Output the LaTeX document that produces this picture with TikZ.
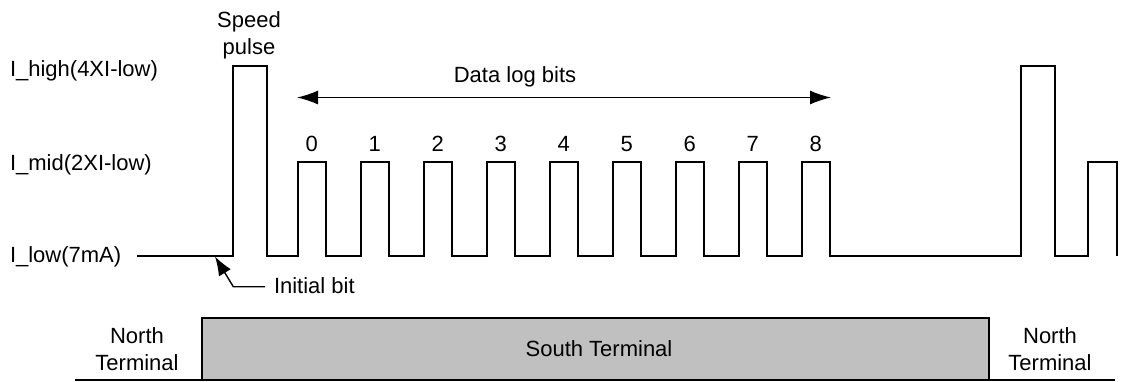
\documentclass[tikz,border=0pt]{standalone}
\usepackage{fontspec}
\setmainfont{Liberation Sans}
\usetikzlibrary{arrows.meta}
\definecolor{boxgray}{HTML}{C0C0C0}
\begin{document}
\begin{tikzpicture}[x=1pt,y=-1pt,
  lbl/.style={font=\fontsize{22}{26}\selectfont, inner sep=0pt, outer sep=0pt},
  twoline/.style={lbl, align=center, font=\fontsize{22}{26.5}\selectfont},
  wave/.style={line width=2pt, line join=miter},
  thinarrow/.style={line width=1.4pt}]
\useasboundingbox (0,0) rectangle (1123,381);

% level labels
\node[lbl, anchor=base west] (lhigh) at (10,76) {I\_high(4XI-low)};
\node[lbl, anchor=base west] (lmid) at (10,170) {I\_mid(2XI-low)};
\node[lbl, anchor=base west] (llow) at (10,262) {I\_low(7mA)};

% speed pulse label
\node[twoline, anchor=center] (sp) at (249,35.5) {Speed\\pulse};

% waveform
\def\L{255.5}\def\M{161.5}\def\H{66}
\draw[wave] (137,\L) -- (233,\L) -- (233,\H) -- (267,\H) -- (267,\L)
  \foreach \i in {0,...,8} {
    -- ({297.5+63*\i},\L) -- ({297.5+63*\i},\M) -- ({326+63*\i},\M) -- ({326+63*\i},\L)
  }
  -- (1021,\L) -- (1021,\H) -- (1055,\H) -- (1055,\L) -- (1088,\L) -- (1088,\M) -- (1117,\M) -- (1117,\L);

% bit numbers
\foreach \i in {0,...,8} {
  \node[lbl, anchor=base] (b\i) at ({311.75+63*\i},151.5) {\i};
}

% data log bits arrow
\coordinate (dlA) at (297,97.5);
\coordinate (dlB) at (831,97.5);
\draw[thinarrow, {Latex[length=21pt,width=14pt]}-{Latex[length=21pt,width=14pt]}] (dlA) -- (dlB);
\node[lbl, anchor=base] (dl) at (515,82) {Data log bits};

% initial bit
\node[lbl, anchor=base west] (ib) at (274,293.3) {Initial bit};
\coordinate (ibtip) at (215,256.5);
\coordinate (ibbend) at (233.3,286.7);
\draw[thinarrow, -{Latex[length=19pt,width=14pt]}] (ib.west |- ibbend) ++(-9,0) -- (ibbend) -- (ibtip);

% terminals
\fill[boxgray] (202,318) rectangle (989,380);
\draw[line width=1.2pt] (75,380) -- (1115,380);
\draw[wave] (202,380) -- (202,318) -- (989,318) -- (989,380);
\node[twoline, anchor=center] (nt1) at (137,349) {North\\Terminal};
\node[lbl, anchor=center] (st) at (599,349) {South Terminal};
\node[twoline, anchor=center] (nt2) at (1050,349) {North\\Terminal};
\end{tikzpicture}
\end{document}
